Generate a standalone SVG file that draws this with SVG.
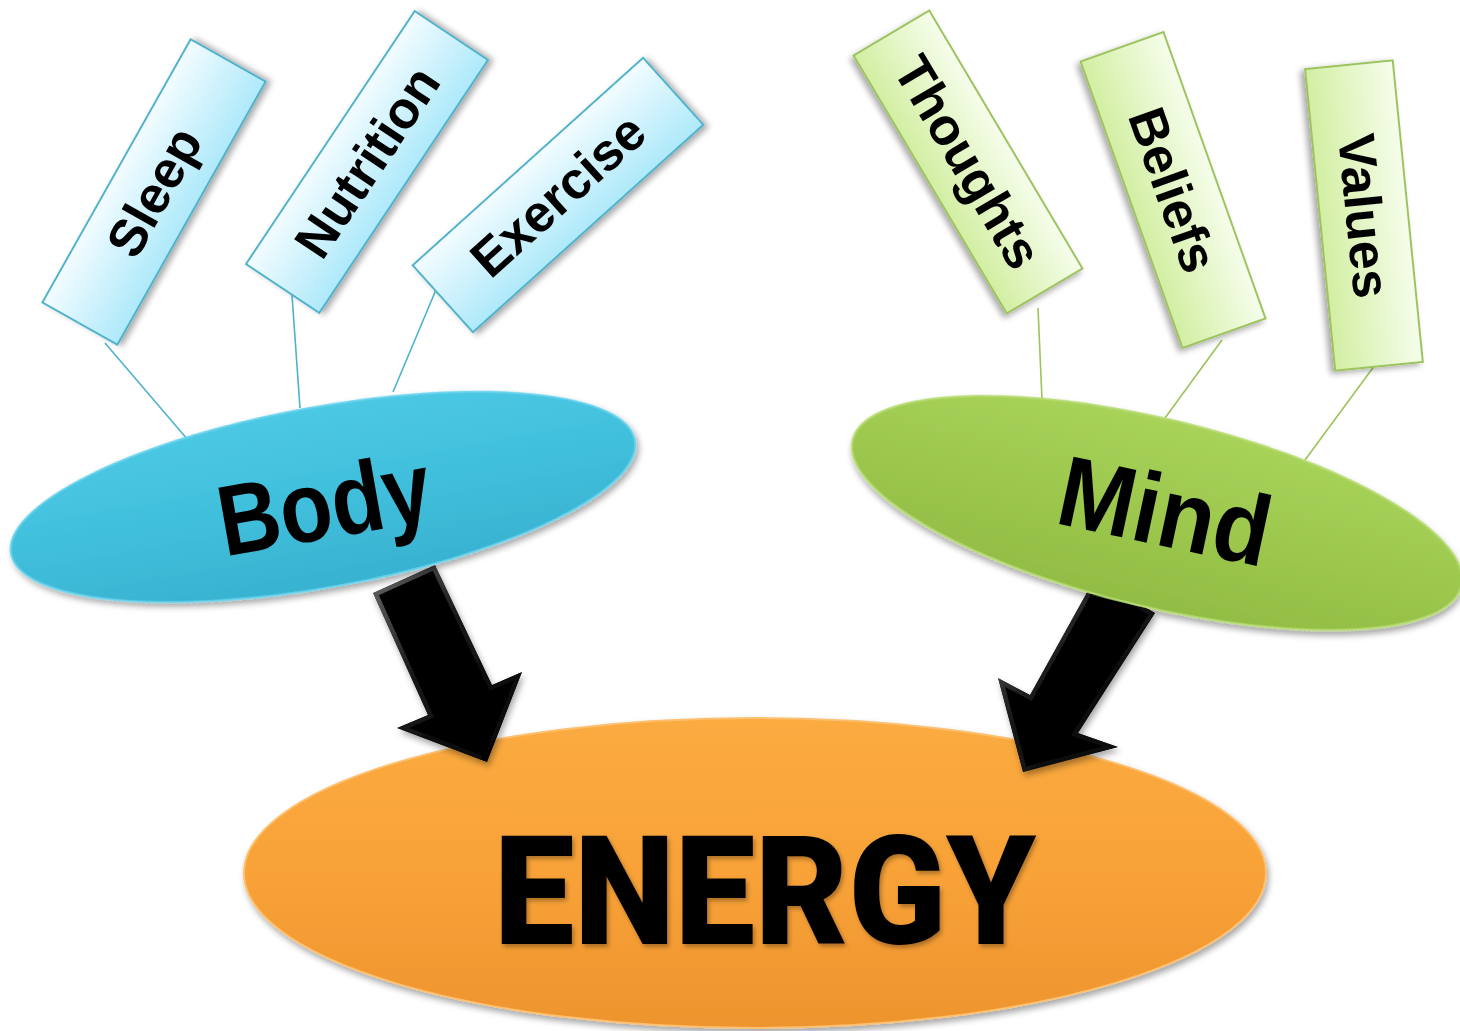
<svg xmlns="http://www.w3.org/2000/svg" width="1460" height="1031" viewBox="0 0 1460 1031">
  <style>
    .boxTxt { font-family: "Liberation Sans", Arial, sans-serif; font-weight: bold; font-size: 52px; fill: #000; text-anchor: middle; }
    .bigTxt { font-family: "Liberation Sans", Arial, sans-serif; font-weight: bold; font-size: 100px; fill: #000; text-anchor: middle; }
    .blueBox { fill: url(#gBlueBox); stroke: #4db3cc; stroke-width: 2; }
    .greenBox { fill: url(#gGreenBox); stroke: #9cc35c; stroke-width: 2; }
    .blueLine { stroke: #4db3cc; stroke-width: 1.6; fill: none; }
    .greenLine { stroke: #9cc35c; stroke-width: 1.6; fill: none; }
    .arrow { fill: #000; stroke: url(#gBevel); stroke-width: 9; stroke-linejoin: miter; }
  </style>
  <defs>
    <linearGradient id="gBlueBox" x1="0" y1="0" x2="0" y2="1">
      <stop offset="0" stop-color="#f3fcff"/>
      <stop offset="1" stop-color="#aee9fa"/>
    </linearGradient>
    <linearGradient id="gGreenBox" x1="0" y1="0" x2="0" y2="1">
      <stop offset="0" stop-color="#f6fdeb"/>
      <stop offset="1" stop-color="#d2efa2"/>
    </linearGradient>
    <linearGradient id="gBody" x1="0" y1="0" x2="0" y2="1">
      <stop offset="0" stop-color="#4cc8e4"/>
      <stop offset="0.5" stop-color="#40bfdc"/>
      <stop offset="1" stop-color="#38b2d0"/>
    </linearGradient>
    <linearGradient id="gMind" x1="0" y1="0" x2="0" y2="1">
      <stop offset="0" stop-color="#a8d35a"/>
      <stop offset="0.5" stop-color="#9dc84e"/>
      <stop offset="1" stop-color="#92bd44"/>
    </linearGradient>
    <linearGradient id="gEnergy" x1="0" y1="0" x2="0" y2="1">
      <stop offset="0" stop-color="#fbab40"/>
      <stop offset="0.5" stop-color="#f8a238"/>
      <stop offset="1" stop-color="#ee942e"/>
    </linearGradient>
    <linearGradient id="gBevel" x1="0" y1="0" x2="1" y2="1">
      <stop offset="0" stop-color="#6a6a6a"/>
      <stop offset="0.4" stop-color="#1a1a1a"/>
      <stop offset="1" stop-color="#000"/>
    </linearGradient>
    <filter id="shadow" x="-20%" y="-20%" width="140%" height="150%">
      <feDropShadow dx="2" dy="4" stdDeviation="3" flood-color="#000" flood-opacity="0.35"/>
    </filter>
    <filter id="txtShadow" x="-10%" y="-10%" width="120%" height="130%">
      <feDropShadow dx="2" dy="3" stdDeviation="2" flood-color="#000" flood-opacity="0.3"/>
    </filter>
    <clipPath id="clipArrowL">
      <polygon points="373,593 435,565 492,685 522,672 487,762 397,728 428,715"/>
    </clipPath>
    <clipPath id="clipArrowR">
      <polygon points="1095,578 1155,613 1078,733 1118,747 1023,772 998,678 1030,695"/>
    </clipPath>
  </defs>

  <rect width="1460" height="1031" fill="#fff"/>

  <!-- result node -->
  <g id="energy">
    <ellipse cx="755" cy="873" rx="511" ry="155" fill="url(#gEnergy)" stroke="#fcc070" stroke-width="2" filter="url(#shadow)"/>
    <text x="494" y="944" textLength="542" lengthAdjust="spacingAndGlyphs" filter="url(#txtShadow)" style="font-family: Roboto, 'Liberation Sans', sans-serif; font-weight: 900; font-size: 152px; fill: #000;">ENERGY</text>
  </g>

  <!-- links between nodes -->
  <g id="connectors">
    <line class="blueLine" x1="105" y1="343" x2="188" y2="440"/>
    <line class="blueLine" x1="292" y1="295" x2="300" y2="408"/>
    <line class="blueLine" x1="438" y1="285" x2="393" y2="392"/>
    <line class="greenLine" x1="1038" y1="308" x2="1042" y2="400"/>
    <line class="greenLine" x1="1222" y1="340" x2="1165" y2="418"/>
    <line class="greenLine" x1="1375" y1="365" x2="1305" y2="460"/>
    <g filter="url(#shadow)">
      <polygon id="arrow-body-energy" class="arrow" clip-path="url(#clipArrowL)" points="373,593 435,565 492,685 522,672 487,762 397,728 428,715"/>
    </g>
    <g filter="url(#shadow)">
      <polygon id="arrow-mind-energy" class="arrow" clip-path="url(#clipArrowR)" points="1095,578 1155,613 1078,733 1118,747 1023,772 998,678 1030,695"/>
    </g>
  </g>

  <g id="body">
    <ellipse cx="323" cy="497" rx="317" ry="90" transform="rotate(-10.3 323 497)" fill="url(#gBody)" stroke="#6ad3ec" stroke-width="2" filter="url(#shadow)"/>
    <text class="bigTxt" transform="translate(330,538) rotate(-10)" textLength="214" lengthAdjust="spacingAndGlyphs">Body</text>
  </g>

  <g id="mind">
    <ellipse cx="1157" cy="513" rx="313" ry="94" transform="rotate(13.5 1157 513)" fill="url(#gMind)" stroke="#b8dc74" stroke-width="2" filter="url(#shadow)"/>
    <text class="bigTxt" transform="translate(1158,545) rotate(12)" textLength="214" lengthAdjust="spacingAndGlyphs">Mind</text>
  </g>

  <g id="sleep" transform="translate(154,192) rotate(-60.6)">
    <rect class="blueBox" x="-151" y="-43" width="302" height="86" filter="url(#shadow)"/>
    <text class="boxTxt" x="0" y="18">Sleep</text>
  </g>
  <g id="nutrition" transform="translate(367,162) rotate(-56.3)">
    <rect class="blueBox" x="-152" y="-44" width="304" height="88" filter="url(#shadow)"/>
    <text class="boxTxt" x="0" y="18">Nutrition</text>
  </g>
  <g id="exercise" transform="translate(558,195) rotate(-42)">
    <rect class="blueBox" x="-155" y="-45" width="310" height="90" filter="url(#shadow)"/>
    <text class="boxTxt" x="0" y="18">Exercise</text>
  </g>

  <g id="thoughts" transform="translate(968,162) rotate(59.3)">
    <rect class="greenBox" x="-150" y="-44" width="300" height="88" filter="url(#shadow)"/>
    <text class="boxTxt" x="0" y="18">Thoughts</text>
  </g>
  <g id="beliefs" transform="translate(1173,190) rotate(70.4)">
    <rect class="greenBox" x="-152" y="-44" width="304" height="88" filter="url(#shadow)"/>
    <text class="boxTxt" x="0" y="18">Beliefs</text>
  </g>
  <g id="values" transform="translate(1364,216) rotate(84.3)">
    <rect class="greenBox" x="-152" y="-44" width="303" height="88" filter="url(#shadow)"/>
    <text class="boxTxt" x="0" y="18">Values</text>
  </g>
</svg>
